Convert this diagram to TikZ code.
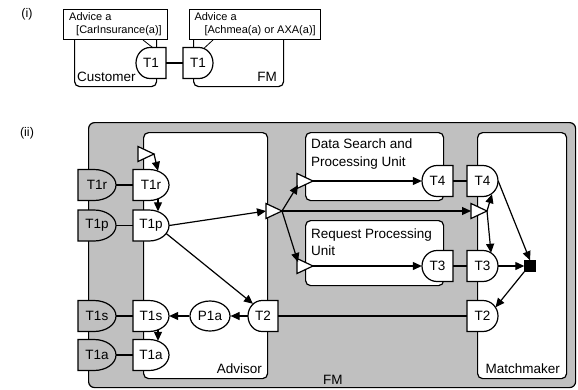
\documentclass[tikz,border=0pt]{standalone}
\usepackage{fontspec}
\setmainfont{Liberation Sans}
\usetikzlibrary{arrows.meta,calc,shapes.geometric}
\definecolor{fmgray}{RGB}{192,192,192}
% port with flat west side, round east side: name, flat x, centre y, width, fill, label
\newcommand\portW[6]{%
  \filldraw[link, fill=#5] (#2,#3-15.5) -- ({#2+16},#3-15.5)
     arc[start angle=-90, end angle=90, x radius={#4-16}, y radius=15.5]
     -- (#2,#3+15.5) -- cycle;
  \node[porttext, minimum width=#4pt] (#1) at ({#2+#4/2},#3) {#6};
}
% port with flat east side, round west side
\newcommand\portE[6]{%
  \filldraw[link, fill=#5] (#2,#3-15.5) -- ({#2-16},#3-15.5)
     arc[start angle=-90, end angle=-270, x radius={#4-16}, y radius=15.5]
     -- (#2,#3+15.5) -- cycle;
  \node[porttext, minimum width=#4pt] (#1) at ({#2-#4/2},#3) {#6};
}
% small white triangle pointing right: name, base x, centre y
\newcommand\tri[3]{%
  \filldraw[link, fill=white, line join=miter] (#2,#3-7.5) -- ({#2+16},#3) -- (#2,#3+7.5) -- cycle;
  \coordinate (#1) at (#2,#3);
  \coordinate (#1-tip) at ({#2+16},#3);
}
\begin{document}
\begin{tikzpicture}[x=1pt,y=-1pt,
  link/.style={line width=1.2pt},
  thinlink/.style={line width=0.8pt},
  arr/.style={line width=1.2pt, -{Triangle[length=9pt,width=8pt]}},
  container/.style={draw, line width=1.2pt, rounded corners=5pt, fill=white, anchor=north west, inner sep=0pt},
  lbl/.style={font=\fontsize{13.5}{16}\selectfont, inner sep=0pt},
  porttext/.style={font=\fontsize{13.5}{16}\selectfont, inner sep=0pt, minimum height=31pt},
  adv/.style={draw, line width=1pt, fill=white, anchor=north west, minimum height=30pt,
              inner xsep=5pt, inner ysep=2pt, align=left, font=\fontsize{11}{13}\selectfont}
]
\useasboundingbox (0,0) rectangle (578,389);

% ---------------- (i) ----------------
\node[lbl, font=\fontsize{12.5}{15}\selectfont] (labi) at (27,14) {(i)};
\node[container, minimum width=82pt, minimum height=61pt] (cust) at (74,25) {};
\node[container, minimum width=90pt, minimum height=61pt] (fmi) at (193,25) {};
\node[adv, minimum width=104pt] (adv1) at (63,9) {Advice a\\\hspace*{7pt}[CarInsurance(a)]};
\node[adv, minimum width=129pt] (adv2) at (189,9) {Advice a\\\hspace*{10pt}[Achmea(a) or AXA(a)]};
\node[lbl, anchor=base west] (custlbl) at (77,81) {Customer};
\node[lbl, anchor=base east] (fmilbl) at (277,81) {FM};
\portE{CT1}{166}{63}{30}{white}{T1}
\portW{FT1}{183}{63}{30}{white}{T1}
\draw[link] (CT1.east) -- (FT1.west);
\draw[thinlink] ($(adv1.south west)+(80,0)$) -- ($(CT1.north)+(2,0.5)$);
\draw[thinlink] ($(adv2.south west)+(24,0)$) -- ($(FT1.north)+(6,1)$);

% ---------------- (ii) ----------------
\node[lbl, font=\fontsize{12.5}{15}\selectfont] (labii) at (27,133) {(ii)};
\node[container, fill=fmgray, rounded corners=6pt, minimum width=487pt, minimum height=265pt] (fmii) at (88,122) {};
\node[container, minimum width=124pt, minimum height=246pt] (advisor) at (143,132) {};
\node[container, minimum width=138pt, minimum height=68pt] (dspu) at (305,132) {};
\node[container, minimum width=138pt, minimum height=65pt] (rpu) at (305,220) {};
\node[container, minimum width=89pt, minimum height=246pt] (mm) at (477,132) {};

\node[lbl, anchor=north west, align=left, font=\fontsize{13.5}{18}\selectfont] (dspulbl) at (311,139) {Data Search and\\Processing Unit};
\node[lbl, anchor=north west, align=left, font=\fontsize{13.5}{17}\selectfont] (rpulbl) at (311,229) {Request Processing\\Unit};
\node[lbl, anchor=base east] (advlbl) at (262,373) {Advisor};
\node[lbl, anchor=base east] (mmlbl) at (560,373) {Matchmaker};
\node[lbl, anchor=base west] (fmiilbl) at (323,384) {FM};

% ports
\portW{gT1r}{78}{185}{38}{fmgray}{T1r}
\portW{gT1p}{78}{225.5}{38}{fmgray}{T1p}
\portW{gT1s}{78}{316}{38}{fmgray}{T1s}
\portW{gT1a}{78}{355}{38}{fmgray}{T1a}
\portW{wT1r}{133}{185}{36}{white}{T1r}
\portW{wT1p}{133}{225.5}{36}{white}{T1p}
\portW{wT1s}{133}{316}{36}{white}{T1s}
\portW{wT1a}{133}{355}{36}{white}{T1a}
\portE{aT2}{278}{316}{30}{white}{T2}
\node[ellipse, draw, link, fill=white, minimum width=40pt, minimum height=30pt, inner sep=0pt,
      font=\fontsize{13.5}{16}\selectfont] (P1a) at (210,316) {P1a};
\portE{dT4}{453}{181}{31}{white}{T4}
\portE{dT3}{453}{266}{31}{white}{T3}
\portW{mT4}{467}{181}{31}{white}{T4}
\portW{mT3}{467}{266}{31}{white}{T3}
\portW{mT2}{467}{316}{31}{white}{T2}

% triangles and square
\tri{tA}{138}{154}
\tri{tB}{266}{211}
\tri{tC}{297}{181}
\tri{tD}{297}{266}
\tri{tE}{471}{211}
\node[draw, fill=black, minimum size=11pt, inner sep=0pt] (sq) at (530,266) {};

% plain links
\draw[link] (gT1r.east) -- (wT1r.west);
\draw[link] (gT1p.east) -- (wT1p.west);
\draw[link] (gT1s.east) -- (wT1s.west);
\draw[link] (gT1a.east) -- (wT1a.west);
\draw[link] (dT4.east) -- (mT4.west);
\draw[link] (dT3.east) -- (mT3.west);
\draw[link] (aT2.east) -- (mT2.west);

% arrows
\draw[arr] (tA-tip) -- ($(wT1r.north)+(7,1.5)$);
\draw[arr] ($(wT1r.south)+(7,-1.5)$) -- ($(wT1p.north)+(7,1.5)$);
\draw[arr] (wT1p.east) -- (tB);
\draw[arr] ($(wT1p.east)+(-3,8)$) -- ($(aT2.north)+(-10,3.5)$);
\draw[arr] (aT2.west) -- (P1a.east);
\draw[arr] (P1a.west) -- (wT1s.east);
\draw[arr] ($(wT1s.south)+(7,-1.5)$) -- ($(wT1a.north)+(7,1.5)$);
\draw[arr] (tB-tip) -- ($(tC)+(1,4)$);
\draw[arr] (tB-tip) -- (tE);
\draw[arr] (tB-tip) -- ($(tD)+(1,-4)$);
\draw[arr] (tC-tip) -- (dT4.west);
\draw[arr] (tD-tip) -- (dT3.west);
\draw[arr] (tE-tip) -- ($(mT4.south)+(9.5,-2.5)$);
\draw[arr] (tE-tip) -- ($(mT3.north)+(8.5,2.5)$);
\draw[arr] (mT4.east) -- (sq.north);
\draw[arr] (mT3.east) -- (sq.west);
\draw[arr] (sq.south west) -- ($(mT2.north)+(13,7)$);
\end{tikzpicture}
\end{document}
